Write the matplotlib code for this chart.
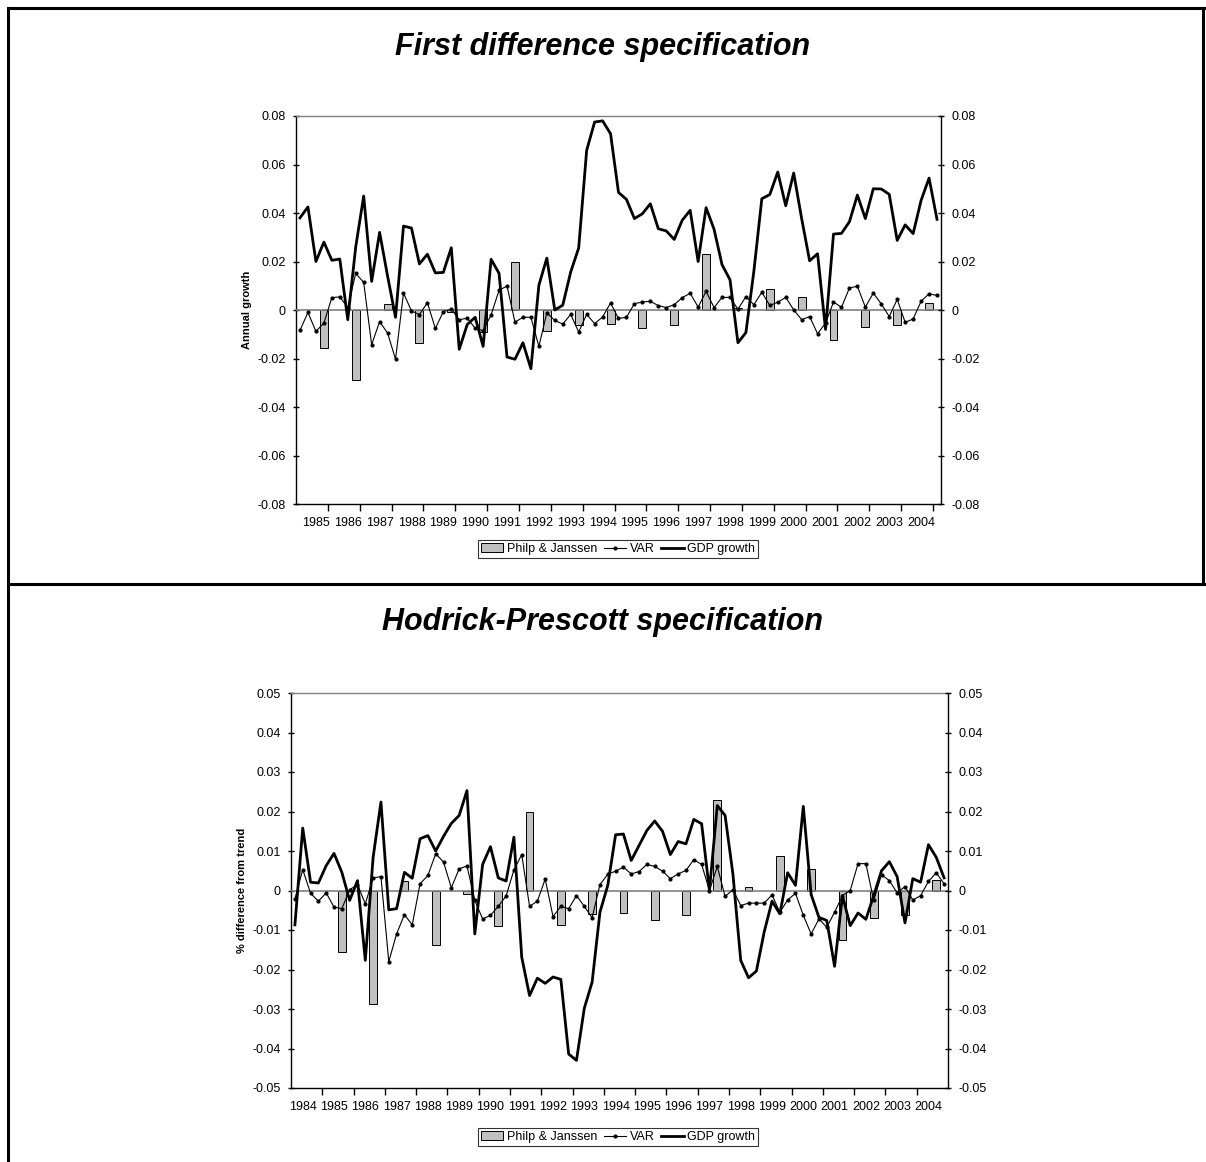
import numpy as np
import matplotlib
matplotlib.use("Agg")
import matplotlib.pyplot as plt
from matplotlib.patches import Patch
from matplotlib.lines import Line2D

plt.rcParams['font.family'] = ['Liberation Sans', 'DejaVu Sans']

# Philp & Janssen annual estimates, 1985-2004
pj_years = list(range(1985, 2005))
pj_values = [-0.0155, -0.0287, 0.0023, -0.0137, -0.0010, -0.0090, 0.0200, -0.0088, -0.0060, -0.0058,
             -0.0075, -0.0061, 0.0229, 0.0008, 0.0088, 0.0055, -0.0125, -0.0070, -0.0061, 0.0027]

# first difference specification, quarterly
fd_years = list(range(1985, 2005))
fd_gdp = [0.0380, 0.0425, 0.0200, 0.0280, 0.0205, 0.0210, -0.0040, 0.0260, 0.0470, 0.0118,
          0.0320, 0.0140, -0.0030, 0.0346, 0.0338, 0.0190, 0.0230, 0.0153, 0.0155, 0.0257,
          -0.0162, -0.0060, -0.0030, -0.0150, 0.0209, 0.0151, -0.0194, -0.0203, -0.0135, -0.0242,
          0.0102, 0.0214, 0.0000, 0.0020, 0.0157, 0.0256, 0.0658, 0.0775, 0.0780, 0.0727,
          0.0485, 0.0456, 0.0377, 0.0397, 0.0438, 0.0335, 0.0326, 0.0291, 0.0370, 0.0411,
          0.0200, 0.0422, 0.0333, 0.0187, 0.0125, -0.0135, -0.0093, 0.0160, 0.0459, 0.0476,
          0.0569, 0.0430, 0.0565, 0.0377, 0.0203, 0.0232, -0.0080, 0.0313, 0.0316, 0.0364,
          0.0474, 0.0377, 0.0500, 0.0499, 0.0477, 0.0287, 0.0351, 0.0315, 0.0452, 0.0544, 0.0374]
fd_var = [-0.0084, -0.0010, -0.0088, -0.0054, 0.0051, 0.0054, 0.0010, 0.0151, 0.0114, -0.0143,
          -0.0048, -0.0095, -0.0203, 0.0070, -0.0004, -0.0019, 0.0030, -0.0076, -0.0007, 0.0004,
          -0.0040, -0.0034, -0.0075, -0.0085, -0.0020, 0.0081, 0.0099, -0.0050, -0.0030, -0.0030,
          -0.0150, -0.0012, -0.0043, -0.0058, -0.0018, -0.0091, -0.0018, -0.0056, -0.0029, 0.0029,
          -0.0035, -0.0030, 0.0026, 0.0033, 0.0036, 0.0018, 0.0010, 0.0022, 0.0051, 0.0069,
          0.0012, 0.0077, 0.0010, 0.0052, 0.0052, 0.0003, 0.0055, 0.0022, 0.0073, 0.0019,
          0.0032, 0.0052, 0.0001, -0.0040, -0.0027, -0.0098, -0.0054, 0.0033, 0.0011, 0.0091,
          0.0098, 0.0012, 0.0070, 0.0025, -0.0027, 0.0044, -0.0051, -0.0037, 0.0036, 0.0067, 0.0060]

# Hodrick-Prescott specification, quarterly
hp_years = list(range(1984, 2005))
hp_gdp = [-0.0087, 0.0158, 0.0021, 0.0019, 0.0063, 0.0094, 0.0046, -0.0025, 0.0025, -0.0177,
          0.0084, 0.0224, -0.0049, -0.0046, 0.0046, 0.0031, 0.0131, 0.0139, 0.0100, 0.0137,
          0.0170, 0.0190, 0.0253, -0.0110, 0.0066, 0.0111, 0.0032, 0.0024, 0.0135, -0.0169,
          -0.0266, -0.0222, -0.0235, -0.0219, -0.0225, -0.0414, -0.0430, -0.0298, -0.0232, -0.0055,
          0.0013, 0.0141, 0.0143, 0.0076, 0.0114, 0.0152, 0.0176, 0.0150, 0.0091, 0.0124,
          0.0118, 0.0180, 0.0169, 0.0000, 0.0215, 0.0190, 0.0042, -0.0177, -0.0221, -0.0204,
          -0.0105, -0.0027, -0.0059, 0.0045, 0.0013, 0.0213, -0.0010, -0.0068, -0.0076, -0.0192,
          -0.0013, -0.0089, -0.0057, -0.0073, -0.0013, 0.0050, 0.0073, 0.0035, -0.0082, 0.0030,
          0.0021, 0.0116, 0.0084, 0.0032]
hp_var = [-0.0021, 0.0053, -0.0007, -0.0027, -0.0006, -0.0042, -0.0046, 0.0002, 0.0015, -0.0034,
          0.0032, 0.0035, -0.0180, -0.0110, -0.0061, -0.0087, 0.0017, 0.0038, 0.0093, 0.0072,
          0.0007, 0.0055, 0.0062, -0.0025, -0.0072, -0.0063, -0.0040, -0.0014, 0.0052, 0.0091,
          -0.0040, -0.0027, 0.0029, -0.0066, -0.0040, -0.0046, -0.0013, -0.0040, -0.0069, 0.0015,
          0.0041, 0.0049, 0.0059, 0.0042, 0.0048, 0.0066, 0.0061, 0.0049, 0.0030, 0.0042,
          0.0051, 0.0078, 0.0066, 0.0000, 0.0061, -0.0015, 0.0002, -0.0038, -0.0032, -0.0032,
          -0.0032, -0.0011, -0.0055, -0.0024, -0.0007, -0.0063, -0.0110, -0.0072, -0.0093, -0.0055,
          -0.0013, 0.0000, 0.0068, 0.0068, -0.0025, 0.0040, 0.0025, -0.0006, 0.0010, -0.0024,
          -0.0013, 0.0023, 0.0045, 0.0017]

BAR_GREY = '#c0c0c0'


def fmt(v):
    if abs(v) < 1e-9:
        return '0'
    return '%.2f' % v


def draw_panel(ax, gdp, var, bar_pos, label_pos, bounds, years, lim, step, ylabel):
    n = len(gdp)
    x = np.arange(n)
    ax.bar(bar_pos, pj_values, width=1.0, color=BAR_GREY, edgecolor='black',
           linewidth=0.7, zorder=2)
    ax.axhline(0, color='#808080', linewidth=1.2, zorder=3)
    ax.plot(x, var, color='black', linewidth=0.8, marker='o', markersize=2.0, zorder=4)
    ax.plot(x, gdp, color='black', linewidth=2.0, zorder=5)

    ax.set_xlim(-0.5, n - 0.5)
    ax.set_ylim(-lim, lim)
    yt = np.arange(-lim, lim + step / 2, step)
    ax.set_yticks(yt)
    ax.set_yticklabels([fmt(v) for v in yt])

    # year boundaries carry the tick marks, labels sit on the minor ticks
    ax.set_xticks(bounds)
    ax.set_xticklabels([])
    ax.set_xticks(label_pos, minor=True)
    ax.set_xticklabels([str(y) for y in years], minor=True)
    ax.tick_params(axis='x', which='major', length=5, width=1, direction='out')
    ax.tick_params(axis='x', which='minor', length=0, pad=9, labelsize=9)
    ax.tick_params(axis='y', length=5, width=1, direction='inout', labelsize=9, pad=5)

    for s in ['left', 'bottom']:
        ax.spines[s].set_color('black')
        ax.spines[s].set_linewidth(1.0)
    ax.spines['right'].set_visible(False)
    ax.spines['top'].set_color('#808080')
    ax.spines['top'].set_linewidth(1.0)

    ax2 = ax.twinx()
    ax2.set_ylim(-lim, lim)
    ax2.set_yticks(yt)
    ax2.set_yticklabels([fmt(v) for v in yt])
    ax2.tick_params(axis='y', length=5, width=1, direction='inout', labelsize=9, pad=5)
    for s in ['left', 'top', 'bottom']:
        ax2.spines[s].set_visible(False)
    ax2.spines['right'].set_linewidth(1.0)
    ax.set_ylabel(ylabel, fontsize=8, fontweight='bold', labelpad=4)


fig = plt.figure(figsize=(12.06, 11.62), dpi=100)

ax_top = fig.add_axes([296 / 1206, 1 - 504 / 1162, 645 / 1206, 388 / 1162])
draw_panel(ax_top, fd_gdp, fd_var,
           bar_pos=np.arange(3, 3 + 4 * len(pj_values), 4),
           label_pos=np.arange(2, 2 + 4 * len(fd_years), 4),
           bounds=np.arange(3.5, len(fd_gdp), 4),
           years=fd_years, lim=0.08, step=0.02, ylabel='Annual growth')

ax_bot = fig.add_axes([291 / 1206, 1 - 1088 / 1162, 657 / 1206, 395 / 1162])
draw_panel(ax_bot, hp_gdp, hp_var,
           bar_pos=np.arange(6, 6 + 4 * len(pj_values), 4),
           label_pos=np.arange(1, 1 + 4 * len(hp_years), 4),
           bounds=np.arange(3.5, len(hp_gdp) - 1, 4),
           years=hp_years, lim=0.05, step=0.01, ylabel='% difference from trend')

fig.text(0.5, 1 - 47 / 1162, 'First difference specification', ha='center', va='center',
         fontsize=22, fontweight='bold', fontstyle='italic')
fig.text(0.5, 1 - 622 / 1162, 'Hodrick-Prescott specification', ha='center', va='center',
         fontsize=22, fontweight='bold', fontstyle='italic')

handles = [Patch(facecolor=BAR_GREY, edgecolor='black', linewidth=0.7),
           Line2D([], [], color='black', linewidth=0.8, marker='o', markersize=2.0),
           Line2D([], [], color='black', linewidth=2.0)]
names = ['Philp & Janssen', 'VAR', 'GDP growth']
for yc in [549, 1137]:
    leg = fig.legend(handles, names, loc='center', bbox_to_anchor=(618 / 1206, 1 - yc / 1162),
                     ncol=3, fontsize=9, frameon=True, fancybox=False, edgecolor='black',
                     handlelength=1.8, handletextpad=0.3, columnspacing=0.5,
                     borderpad=0.25, borderaxespad=0)
    leg.get_frame().set_linewidth(0.8)

# table-like frame around the two panels
x0, x1 = 8 / 1206, 1.0
ytop, ymid = 1 - 8 / 1162, 1 - 584 / 1162
frame = dict(color='black', linewidth=2.2, transform=fig.transFigure)
fig.add_artist(Line2D([x0, x1], [ytop, ytop], **frame))
fig.add_artist(Line2D([x0, x1], [ymid, ymid], **frame))
fig.add_artist(Line2D([x0, x0], [0, ytop], **frame))
fig.add_artist(Line2D([1203 / 1206, 1203 / 1206], [ymid, ytop], **frame))

fig.savefig('out.png', dpi=100)
